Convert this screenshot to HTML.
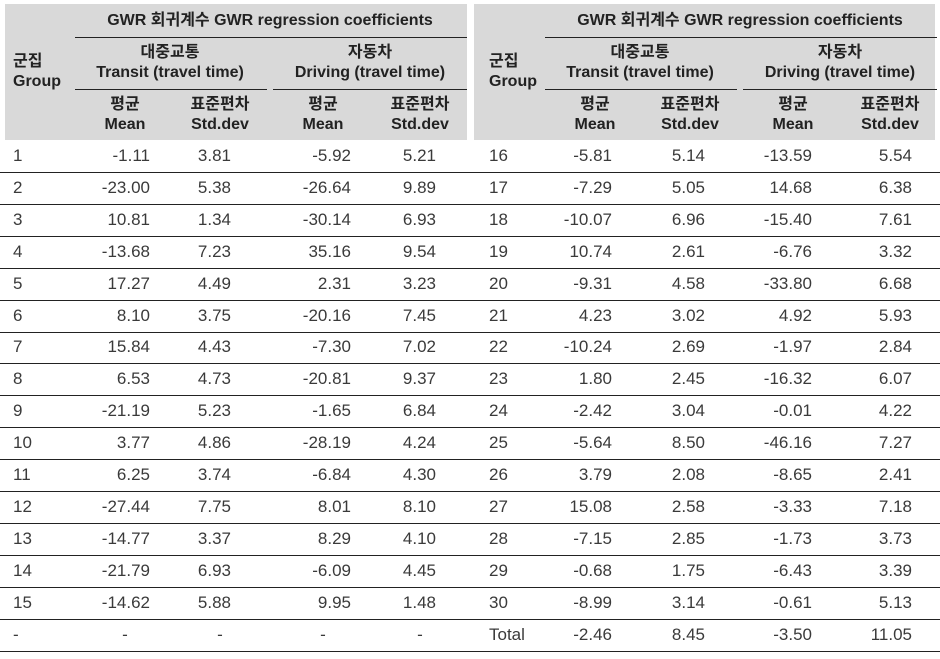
<!DOCTYPE html>
<html><head><meta charset="utf-8">
<style>
body{margin:0;width:940px;height:659px;background:#fff;position:relative;overflow:hidden;font-family:"Liberation Sans","Noto Sans CJK KR",sans-serif;}
.hd{position:absolute;background:#d9d9d9;top:4px;height:136px;}
.t{position:absolute;white-space:nowrap;}
.h{font-weight:bold;font-size:16px;color:#222;line-height:20px;text-align:center;transform:translateX(-50%);}
.d{font-size:17px;color:#3a3a3a;line-height:20px;}
.r{transform:translateX(-100%);}
.c{transform:translateX(-50%);}
.ln{position:absolute;height:1px;background:#222;}
</style></head>
<body>
<div class="hd" style="left:5px;width:462px"></div>
<div class="hd" style="left:474px;width:461px"></div>
<script>
const groupsL=["1","2","3","4","5","6","7","8","9","10","11","12","13","14","15","-"];
const transitMeanL=["-1.11","-23.00","10.81","-13.68","17.27","8.10","15.84","6.53","-21.19","3.77","6.25","-27.44","-14.77","-21.79","-14.62","-"];
const transitSdL=["3.81","5.38","1.34","7.23","4.49","3.75","4.43","4.73","5.23","4.86","3.74","7.75","3.37","6.93","5.88","-"];
const driveMeanL=["-5.92","-26.64","-30.14","35.16","2.31","-20.16","-7.30","-20.81","-1.65","-28.19","-6.84","8.01","8.29","-6.09","9.95","-"];
const driveSdL=["5.21","9.89","6.93","9.54","3.23","7.45","7.02","9.37","6.84","4.24","4.30","8.10","4.10","4.45","1.48","-"];
const groupsR=["16","17","18","19","20","21","22","23","24","25","26","27","28","29","30","Total"];
const transitMeanR=["-5.81","-7.29","-10.07","10.74","-9.31","4.23","-10.24","1.80","-2.42","-5.64","3.79","15.08","-7.15","-0.68","-8.99","-2.46"];
const transitSdR=["5.14","5.05","6.96","2.61","4.58","3.02","2.69","2.45","3.04","8.50","2.08","2.58","2.85","1.75","3.14","8.45"];
const driveMeanR=["-13.59","14.68","-15.40","-6.76","-33.80","4.92","-1.97","-16.32","-0.01","-46.16","-8.65","-3.33","-1.73","-6.43","-0.61","-3.50"];
const driveSdR=["5.54","6.38","7.61","3.32","6.68","5.93","2.84","6.07","4.22","7.27","2.41","7.18","3.73","3.39","5.13","11.05"];

function add(cls,x,y,txt,name){
  const e=document.createElement('div');
  e.className='t '+cls;
  e.style.left=x+'px';e.style.top=y+'px';
  e.innerHTML=txt;
  
  
  document.body.appendChild(e);
  return e;
}
function line(x,y,w,name){
  const e=document.createElement('div');
  e.className='ln';
  e.style.left=x+'px';e.style.top=y+'px';e.style.width=w+'px';
  
  
  document.body.appendChild(e);
}
function side(o,gx,cols,g,tm,ts,dm,ds,p){
  add('h',o+270,11,'GWR 회귀계수 GWR regression coefficients',p+'-title');
  const gh=add('h',gx,52,'군집<br>Group',p+'-group-header');
  gh.style.textAlign='left';gh.style.transform='none';
  line(o+75,37,392,p+'-title-rule');
  add('h',o+170,43,'대중교통<br>Transit (travel time)',p+'-transit-header');
  add('h',o+370,43,'자동차<br>Driving (travel time)',p+'-driving-header');
  line(o+75,89,192,p+'-transit-rule');
  line(o+273,89,194,p+'-driving-rule');
  const hx=[125,220,323,420];
  const hn=['평균<br>Mean','표준편차<br>Std.dev','평균<br>Mean','표준편차<br>Std.dev'];
  hx.forEach((x,i)=>add('h',o+x,95,hn[i],p+'-subheader-'+i));
  const arrs=[tm,ts,dm,ds];
  for(let i=0;i<g.length;i++){
    const y=146+i*31.9;
    add('d',gx,y,g[i],p+'-group-'+g[i]);
    arrs.forEach((a,j)=>{
      if(a[i]==='-'){add('d c',o+hx[j],y,'-',p+'-cell-dash');}
      else add('d r',cols[j],y,a[i],p+'-cell-'+i+'-'+j);
    });
  }
}
side(0,13,[150,231,351,436],groupsL,transitMeanL,transitSdL,driveMeanL,driveSdL,'left');
side(470,489,[612,705,812,912],groupsR,transitMeanR,transitSdR,driveMeanR,driveSdR,'right');
for(let i=0;i<16;i++){ line(0,Math.round(172+i*31.9),940,'row-rule-'+i); }
</script>
</body></html>
